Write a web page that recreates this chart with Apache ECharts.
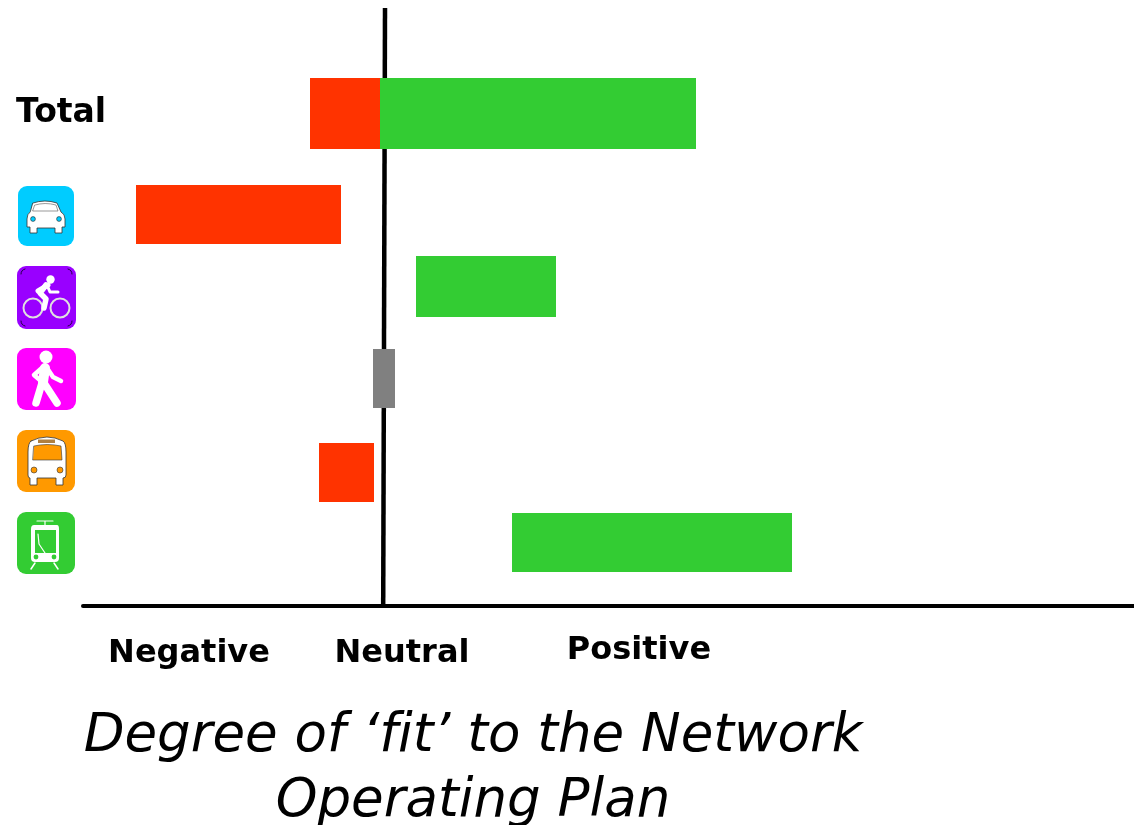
<!DOCTYPE html>
<html>
<head>
<meta charset="utf-8">
<style>html,body{margin:0;padding:0;background:#fff}#chart{width:1134px;height:825px}</style>
<script src="https://cdn.jsdelivr.net/npm/echarts@6/dist/echarts.min.js"></script>
</head>
<body>
<div id="chart"></div>
<script>
// Data (x units: degree of fit, 0 = neutral)
const categories = ['Total', 'Car', 'Bicycle', 'Walking', 'Bus', 'Tram'];
const segmentCategory = ['Total', 'Total', 'Car', 'Bicycle', 'Walking', 'Bus', 'Tram'];
const segmentStart = [-74, -4, -248, 32, -11, -65, 128];
const segmentEnd = [-4, 312, -43, 172, 11, -10, 408];
const segmentTone = ['negative', 'positive', 'negative', 'positive', 'neutral', 'negative', 'positive'];
const scaleTickValues = [-195, 18, 255];
const scaleTickLabels = ['Negative', 'Neutral', 'Positive'];
const chartTitle = 'Degree of \u2018f\u200Cit\u2019 to the Network\nOperating Plan';

// Layout and style, kept apart from the data
const toneColor = { negative: '#ff3300', positive: '#33cc33', neutral: '#808080' };
const rowCentre = { Total: 105.5, Car: 206.5, Bicycle: 278.5, Walking: 370.5, Bus: 464.5, Tram: 534.5 };
const rowThickness = { Total: 71, Car: 59, Bicycle: 61, Walking: 59, Bus: 59, Tram: 59 };
const FONT = '"DejaVu Sans", Verdana, sans-serif';
const WHITE = '#ffffff';
const labelFont = { fontFamily: FONT, fontWeight: 'bold', fontSize: 32, color: '#000' };

function tile(x, y, w, h, color, children) {
  return {
    type: 'group', x: x, y: y, silent: true,
    children: [{ type: 'rect', shape: { x: 0, y: 0, width: w, height: h, r: 9 }, style: { fill: color } }].concat(children)
  };
}
function pth(d, fill, stroke, lw) {
  return { type: 'path', shape: { pathData: d }, style: { fill: fill || 'none', stroke: stroke || 'none', lineWidth: lw || 1, lineCap: 'round', lineJoin: 'round' } };
}
function dot(cx, cy, r, fill, stroke, lw) {
  return { type: 'circle', shape: { cx: cx, cy: cy, r: r }, style: { fill: fill, stroke: stroke || 'none', lineWidth: lw || 0 } };
}

const CAR = '#00ccff', BIKE = '#9900ff', WALK = '#ff00ff', BUS = '#ff9900', TRAM = '#33cc33';
const iconBuilders = {
  Car: function () { return tile(18, 186, 56, 60, CAR, [
    pth('M15 17Q27 13 39 17L43 26Q47 28 47 33L47 41L44 41L44 47L37 47L37 42L19 42L19 47L12 47L12 41L9 41L9 33Q9 28 12 26Z', WHITE, '#333', 0.8),
    pth('M17 19Q27 16 38 19L40 25L15 25Z', WHITE, '#555', 0.6),
    dot(15, 33, 2.4, CAR, '#222', 0.6), dot(41, 33, 2.4, CAR, '#222', 0.6)
  ]); },
  Bicycle: function () { return tile(17, 266, 59, 63, BIKE, [
    pth('M4 8Q4 4 8 3', null, '#220044', 1), pth('M55 8Q55 4 51 3', null, '#220044', 1),
    pth('M4 55Q4 59 8 60', null, '#220044', 1), pth('M55 55Q55 59 51 60', null, '#220044', 1),
    dot(16, 42, 9.5, 'none', '#e0e0e0', 2), dot(43, 42, 9.5, 'none', '#e0e0e0', 2),
    dot(33.5, 13.5, 4.2, WHITE),
    pth('M30 19L33 26L41 26', null, WHITE, 3),
    pth('M31 19L21 25', null, WHITE, 5),
    pth('M29 19L23 27L29 33L27 42', null, WHITE, 5.5)
  ]); },
  Walking: function () { return tile(17, 348, 59, 62, WALK, [
    dot(29, 9, 6.5, WHITE),
    pth('M28 20L26 34', null, WHITE, 10),
    pth('M25 35L19 55M27 35L40 55', null, WHITE, 7.5),
    pth('M26 19L17 27L24 33', null, WHITE, 4.5),
    pth('M30 20L36 29L44 33', null, WHITE, 4.5)
  ]); },
  Bus: function () { return tile(17, 430, 58, 62, BUS, [
    pth('M14 11Q30 3 46 11Q49 13 49 22L49 45Q49 48 46 48L46 55L39 55L39 48L20 48L20 55L13 55L13 48Q11 48 11 45L11 22Q11 13 14 11Z', WHITE, '#333', 0.8),
    pth('M17 16Q30 13 44 16L45 30L16 30Z', BUS, '#333', 0.6),
    { type: 'rect', shape: { x: 21, y: 9.5, width: 17, height: 3.5 }, style: { fill: '#b08040' } },
    dot(17, 40, 3, BUS, '#333', 0.6), dot(43, 40, 3, BUS, '#333', 0.6)
  ]); },
  Tram: function () { return tile(17, 512, 58, 62, TRAM, [
    pth('M20 9L36 9M28 9L28 13', null, WHITE, 1.2),
    pth('M17 13L40 13Q42 13 42 17L42 46Q42 50 38 50L18 50Q14 50 14 46L14 17Q14 13 17 13Z', WHITE),
    { type: 'rect', shape: { x: 18, y: 18, width: 21, height: 23 }, style: { fill: TRAM } },
    pth('M21 22L22 32L28 41', null, WHITE, 1.2),
    dot(19, 45, 2.4, TRAM), dot(37, 45, 2.4, TRAM),
    pth('M18 51L14 57M37 51L41 57', null, WHITE, 1.5)
  ]); }
};
const iconCategories = categories.slice(1);

const option = {
  animation: false,
  backgroundColor: '#fff',
  title: {
    text: chartTitle, left: 468, top: 700, textAlign: 'center',
    textStyle: { fontFamily: FONT, fontStyle: 'italic', fontWeight: 'normal', fontSize: 53, lineHeight: 65, color: '#000' }
  },
  grid: { left: 83, right: 0, top: 8, bottom: 219 },
  xAxis: {
    type: 'value', min: -301, max: 750, splitLine: { show: false },
    axisLine: { show: true, onZero: false, lineStyle: { color: '#000', width: 4 } },
    axisTick: { show: false },
    axisLabel: {
      customValues: scaleTickValues, margin: 29, interval: 0,
      fontFamily: FONT, fontWeight: 'bold', fontSize: 32, color: '#000',
      rich: {
        low: Object.assign({ padding: [3, 0, 0, 0] }, labelFont),
        high: Object.assign({ padding: [0, 0, 3, 0] }, labelFont)
      },
      formatter: function (v) {
        const i = scaleTickValues.indexOf(v);
        if (i < 0) return '';
        return '{' + (scaleTickLabels[i] === 'Positive' ? 'high' : 'low') + '|' + scaleTickLabels[i] + '}';
      }
    }
  },
  yAxis: { type: 'value', inverse: true, min: 0, max: 598, show: false, splitLine: { show: false } },
  graphic: [
    { type: 'text', x: 16, y: 113, silent: true, style: { text: categories[0], font: 'bold 33px ' + FONT, fill: '#000', textVerticalAlign: 'middle' } }
  ],
  series: [
    {
      name: 'Neutral line', type: 'line', silent: true, symbol: 'none', z: 1,
      lineStyle: { color: '#000', width: 4.5 },
      data: [[1, 0], [-0.8, 598]]
    },
    {
      name: 'Fit', type: 'custom', z: 3, silent: true,
      encode: { x: [0, 1] },
      data: segmentCategory.map(function (c, i) { return [segmentStart[i], segmentEnd[i], c, segmentTone[i]]; }),
      renderItem: function (params, api) {
        const c = segmentCategory[params.dataIndex];
        const a = api.coord([api.value(0), rowCentre[c]]);
        const b = api.coord([api.value(1), rowCentre[c]]);
        const h = api.size([0, rowThickness[c]])[1];
        return {
          type: 'rect',
          shape: { x: a[0], y: a[1] - h / 2, width: b[0] - a[0], height: h },
          style: { fill: toneColor[segmentTone[params.dataIndex]] }
        };
      }
    },
    {
      name: 'Mode icons', type: 'custom', z: 4, silent: true, coordinateSystem: 'none', clip: false,
      data: iconCategories.map(function (c, i) { return [i]; }),
      renderItem: function (params) { return iconBuilders[iconCategories[params.dataIndex]](); }
    }
  ]
};
const chart = echarts.init(document.getElementById('chart'), null, { renderer: 'canvas' });
chart.setOption(option);
</script>
</body>
</html>
